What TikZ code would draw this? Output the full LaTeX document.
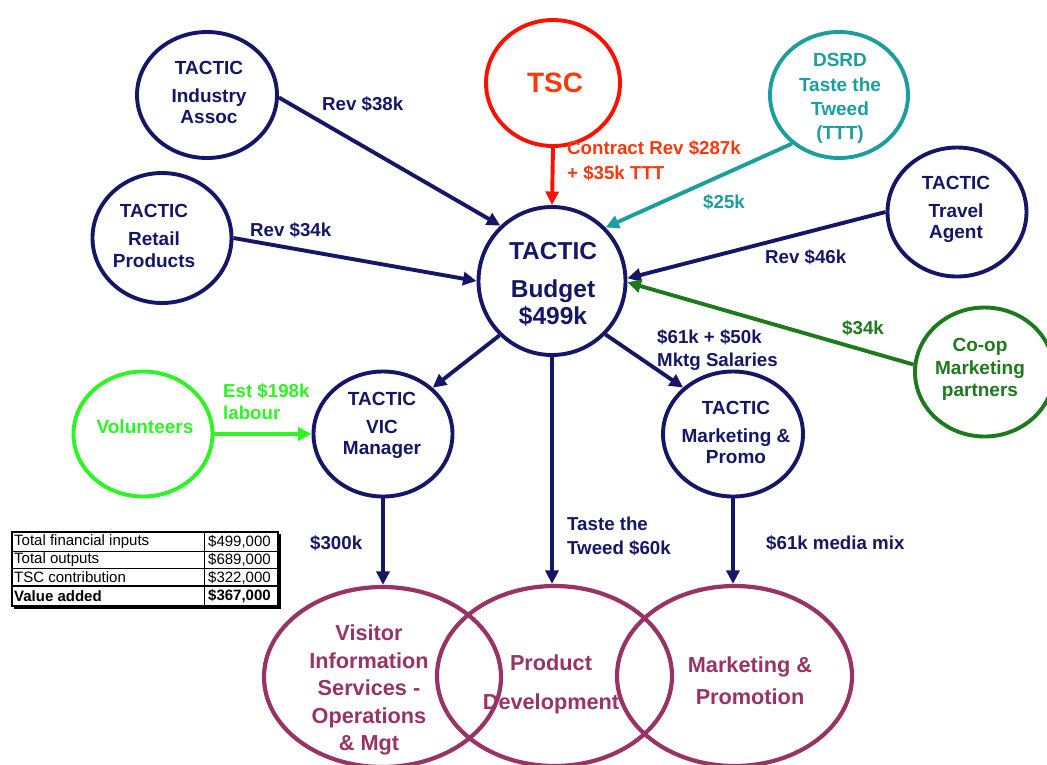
\documentclass[tikz,border=0pt]{standalone}
\usepackage{fontspec}
\setmainfont{Liberation Sans}
\usetikzlibrary{shapes.geometric,arrows.meta,calc}
\definecolor{navy}{RGB}{22,22,105}
\definecolor{tscred}{RGB}{255,15,0}
\definecolor{tsctext}{RGB}{255,55,10}
\definecolor{teal2}{RGB}{28,158,158}
\definecolor{dgreen}{RGB}{28,122,28}
\definecolor{lime}{RGB}{45,245,35}
\definecolor{maroon}{RGB}{153,51,102}
\tikzset{
  circ/.style={ellipse, draw=#1, line width=3.9pt, inner sep=0pt, minimum width=139pt, minimum height=127pt},
  ctext/.style={text=#1, align=center, inner sep=0pt, font=\fontsize{19}{21.5}\selectfont\bfseries},
  arr/.style={draw=#1, line width=3.9pt, -{Triangle[length=13.5pt,width=13pt]}},
  lab/.style={text=#1, font=\fontsize{18.7}{23}\selectfont\bfseries, align=left, anchor=west, inner sep=0pt},
  venn/.style={ellipse, draw=maroon, line width=4.2pt, minimum width=237pt, minimum height=180pt},
  venntext/.style={text=maroon, align=center, inner sep=0pt},
  cell/.style={font=\fontsize{15}{17}\selectfont, anchor=west, inner sep=0pt}
}
\begin{document}
\begin{tikzpicture}[x=1pt,y=-1pt]
\useasboundingbox (0,0) rectangle (1047,764);
% circles
\node[circ=navy, minimum width=140pt, minimum height=126pt] (ind) at (207,95) {};
\node[ctext=navy] (indt) at (209,92.5) {TACTIC\\[6.5pt]Industry\\Assoc};
\node[circ=tscred, minimum width=134pt, minimum height=126pt] (tsc) at (553,83) {};
\node[ctext=tsctext, font=\fontsize{28}{30}\selectfont\bfseries] (tsct) at (555,83) {TSC};
\node[circ=teal2, minimum width=138pt, minimum height=126pt] (dsrd) at (839,95) {};
\node[ctext=teal2, font=\fontsize{19}{24.3}\selectfont\bfseries] (dsrdt) at (840,98.5) {DSRD\\Taste the\\Tweed\\(TTT)};
\node[circ=navy, minimum width=139pt, minimum height=130pt] (ret) at (162,238) {};
\node[ctext=navy] (rett) at (154,236) {TACTIC\\[6.5pt]Retail\\Products};
\node[circ=navy, minimum width=147pt, minimum height=148pt] (bud) at (552,281) {};
\node[ctext=navy, font=\fontsize{24.5}{27}\selectfont\bfseries] (budt) at (553,284) {TACTIC\\[11pt]Budget\\\$499k};
\node[circ=navy, minimum width=139pt, minimum height=129pt] (trav) at (957,212) {};
\node[ctext=navy] (travt) at (956,209.5) {TACTIC\\[6.5pt]Travel\\Agent};
\node[circ=dgreen, minimum width=139pt, minimum height=129pt] (coop) at (984.5,372) {};
\node[ctext=dgreen, font=\fontsize{19}{22.5}\selectfont\bfseries] (coopt) at (980,369.5) {Co-op\\Marketing\\partners};
\node[circ=lime, minimum width=139pt, minimum height=125pt] (vol) at (143,434) {};
\node[ctext=lime] (volt) at (145,427) {Volunteers};
\node[circ=navy, minimum width=139pt, minimum height=125pt] (vic) at (383,434) {};
\node[ctext=navy] (vict) at (382,425.5) {TACTIC\\[6.5pt]VIC\\Manager};
\node[circ=navy, minimum width=140pt, minimum height=125pt] (mkt) at (733,434) {};
\node[ctext=navy] (mktt) at (736,432.5) {TACTIC\\[6.5pt]Marketing \&\\Promo};
% venn
\node[venn] (vis) at (382.5,677) {};
\node[venn, minimum width=235pt] (prod) at (554.5,676) {};
\node[venn, minimum width=235pt] (mark) at (734.5,676) {};
\node[venntext, font=\fontsize{21.7}{27.5}\selectfont\bfseries] (vist) at (369,690) {Visitor\\Information\\Services -\\Operations\\\& Mgt};
\node[venntext, font=\fontsize{21.7}{39}\selectfont\bfseries] (prodt) at (551,684.5) {Product\\Development};
\node[venntext, font=\fontsize{21.7}{32}\selectfont\bfseries] (markt) at (750,681) {Marketing \&\\Promotion};
% arrows
\draw[arr=navy] (ind.-2) -- (bud.133);
\draw[arr=navy] (ret.0) -- (bud.180);
\draw[arr=tscred] (tsc.south) -- (bud.north);
\draw[arr=teal2] (dsrd.226) -- (bud.45.5);
\draw[arr=navy] (trav.180) -- (bud.2);
\draw[arr=dgreen] (coop.174) -- (bud.-1);
\draw[arr=navy] (bud.-134) -- (vic.43);
\draw[arr=navy] (bud.-45) -- (mkt.137);
\draw[arr=navy] (bud.south) -- (bud.south |- prod.north);
\draw[arr=lime] (vol.east) -- (vic.west);
\draw[arr=navy] (vic.south) -- (vic.south |- vis.north);
\draw[arr=navy] (mkt.south) -- (mkt.south |- mark.north);
% labels
\node[lab=navy] (l1) at (322,104) {Rev \$38k};
\node[lab=navy] (l2) at (250,230) {Rev \$34k};
\node[lab=tsctext, font=\fontsize{18.7}{25}\selectfont\bfseries] (l3) at (567,160.5) {Contract Rev \$287k\\+ \$35k TTT};
\node[lab=teal2] (l4) at (703,202) {\$25k};
\node[lab=navy] (l5) at (765,257) {Rev \$46k};
\node[lab=dgreen] (l6) at (842,328) {\$34k};
\node[lab=navy] (l7) at (657,350.5) {\$61k + \$50k\\Mktg Salaries};
\node[lab=lime, font=\fontsize{18.7}{22}\selectfont\bfseries] (l8) at (223,402) {Est \$198k\\labour};
\node[lab=navy, font=\fontsize{18.7}{24}\selectfont\bfseries] (l9) at (567,536) {Taste the\\Tweed \$60k};
\node[lab=navy] (l10) at (310,543) {\$300k};
\node[lab=navy] (l11) at (766,543) {\$61k media mix};
% table
\fill (14,534) rectangle (280.5,608.5);
\fill[white] (12,532) rectangle (278,606);
\draw[line width=0.8pt] (12,551) -- (278,551) (12,568) -- (278,568) (204,532) -- (204,606);
\draw[line width=1.4pt] (12,532) rectangle (278,606);
\draw[line width=1.8pt] (12,586) -- (278,586);
\node[cell] (t1) at (14,542) {Total financial inputs};
\node[cell] (t2) at (14,560) {Total outputs};
\node[cell] (t3) at (14,577.5) {TSC contribution};
\node[cell, font=\fontsize{15}{17}\selectfont\bfseries] (t4) at (14,596) {Value added};
\node[cell] (v1) at (208,542) {\$499,000};
\node[cell] (v2) at (208,560) {\$689,000};
\node[cell] (v3) at (208,577.5) {\$322,000};
\node[cell, font=\fontsize{15}{17}\selectfont\bfseries] (v4) at (208,596) {\$367,000};
\end{tikzpicture}
\end{document}
